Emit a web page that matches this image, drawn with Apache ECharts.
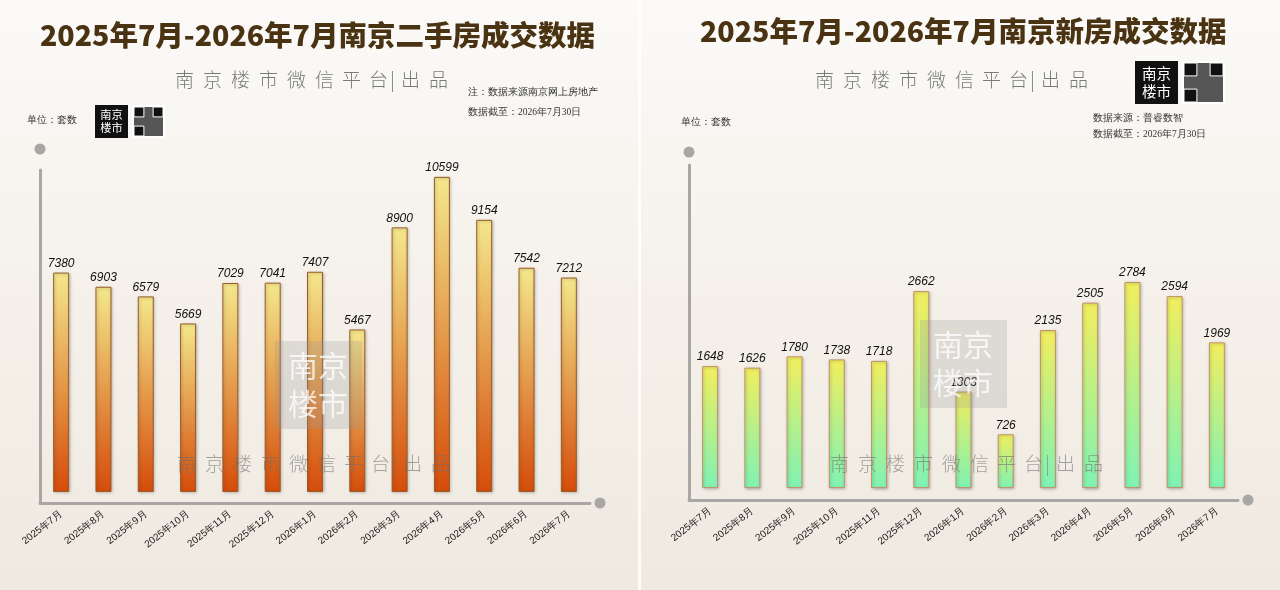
<!DOCTYPE html>
<html>
<head>
<meta charset="utf-8">
<script src="https://cdn.jsdelivr.net/npm/echarts@6/dist/echarts.min.js"></script>
<style>
  html, body { margin: 0; padding: 0; background: #f6f2ec; }
  #main { width: 1280px; height: 590px; }
</style>
</head>
<body>
<div id="main"></div>
<script>
// 月份
var months = ['2025年7月', '2025年8月', '2025年9月', '2025年10月', '2025年11月', '2025年12月',
  '2026年1月', '2026年2月', '2026年3月', '2026年4月', '2026年5月', '2026年6月', '2026年7月'];
// 二手房成交（套）
var secondHand = [7380, 6903, 6579, 5669, 7029, 7041, 7407, 5467, 8900, 10599, 9154, 7542, 7212];
// 新房成交（套）
var newHome = [1648, 1626, 1780, 1738, 1718, 2662, 1303, 726, 2135, 2505, 2784, 2594, 1969];

var myChart = echarts.init(document.getElementById('main'));
var cjk = '"Noto Sans CJK SC", sans-serif';

function axisX(gridIndex, offs) {
  return {
    type: 'category', gridIndex: gridIndex, data: months,
    axisLine: { onZero: false, symbol: ['none', 'circle'], symbolSize: [11, 11], symbolOffset: [0, offs],
      lineStyle: { color: '#a9a7a4', width: 3 } },
    axisTick: { show: false },
    axisLabel: { interval: 0, rotate: 38, fontSize: 10, color: '#1a1a1a', margin: 10, fontFamily: 'Liberation Sans, Arial' }
  };
}
function axisY(gridIndex, min, max, offs) {
  return {
    type: 'value', gridIndex: gridIndex, min: min, max: max,
    axisLine: { show: true, symbol: ['none', 'circle'], symbolSize: [11, 11], symbolOffset: [0, offs],
      lineStyle: { color: '#a9a7a4', width: 3 } },
    axisTick: { show: false }, axisLabel: { show: false }, splitLine: { show: false }
  };
}
function barSeries(idx, data, c0, c1, border) {
  return {
    type: 'bar', xAxisIndex: idx, yAxisIndex: idx, data: data, barWidth: 16,
    itemStyle: {
      color: new echarts.graphic.LinearGradient(0, 0, 0, 1, [
        { offset: 0, color: c0 }, { offset: 1, color: c1 }]),
      borderColor: border, borderWidth: 1,
      shadowColor: 'rgba(0,0,0,0.25)', shadowBlur: 3, shadowOffsetX: 1, shadowOffsetY: 1
    },
    label: { show: true, position: 'top', distance: 3, fontSize: 12, fontStyle: 'italic',
      color: '#111', fontFamily: 'Liberation Sans, Arial' }
  };
}
function txt(x, y, s, size, color, extra) {
  var o = { type: 'text', left: x, top: y, z: 10,
    style: { text: s, fontSize: size, fill: color, fontFamily: cjk } };
  if (extra) Object.assign(o.style, extra);
  return o;
}
// 逐字排开的“南京楼市微信平台| 出品”
function spaced(x, y, color, z) {
  var chars = ['南', '京', '楼', '市', '微', '信', '平', '台', '|', '出', '品'];
  var pos = [0, 28, 56, 84, 112, 140, 167, 194, 215, 226, 254];
  return { type: 'group', left: x, top: y, z: z, children: chars.map(function (c, i) {
    return { type: 'text', x: pos[i], y: 0, z: z, style: { text: c, fontSize: 19, fill: color,
      fontFamily: cjk, fontWeight: 300 } };
  }) };
}
function logo(x, y, w) {
  return { type: 'group', left: x, top: y, z: 10, children: [
    { type: 'rect', shape: { x: 0, y: 0, width: w, height: w }, style: { fill: '#111' } },
    { type: 'text', x: w / 2, y: w / 2, style: { text: '南京\n楼市', fontSize: w * 0.34, lineHeight: w * 0.4,
      fill: '#fff', align: 'center', verticalAlign: 'middle', fontFamily: cjk } },
    { type: 'rect', shape: { x: w + 4, y: 0, width: w, height: w }, style: { fill: '#fff' } },
    { type: 'rect', shape: { x: w + 6, y: 2, width: w - 4, height: w - 4 }, style: { fill: '#555' } },
    { type: 'rect', shape: { x: w + 6, y: 2, width: w * 0.3, height: w * 0.3 }, style: { fill: '#111', stroke: '#fff', lineWidth: 1 } },
    { type: 'rect', shape: { x: 2 * w - w * 0.3 + 2, y: 2, width: w * 0.3, height: w * 0.3 }, style: { fill: '#111', stroke: '#fff', lineWidth: 1 } },
    { type: 'rect', shape: { x: w + 6, y: w - w * 0.3 - 2, width: w * 0.3, height: w * 0.3 }, style: { fill: '#111', stroke: '#fff', lineWidth: 1 } }
  ] };
}
function stamp(x, y) {
  return { type: 'group', left: x, top: y, z: 20, children: [
    { type: 'rect', z: 20, shape: { x: 0, y: 0, width: 87, height: 88 }, style: { fill: 'rgba(150,150,150,0.25)' } },
    { type: 'text', z: 21, x: 43, y: 44, style: { text: '南京\n楼市', fontSize: 30, lineHeight: 38, fill: 'rgba(255,255,255,0.75)',
      align: 'center', verticalAlign: 'middle', fontFamily: cjk } }
  ] };
}

var options = {
  backgroundColor: new echarts.graphic.LinearGradient(0, 0, 0, 1, [
    { offset: 0, color: '#fbfaf8' }, { offset: 0.5, color: '#f5f1ea' }, { offset: 1, color: '#efe9e0' }]),
  animation: false,
  grid: [
    { left: 40, top: 170, width: 550, height: 333 },
    { left: 689, top: 165, width: 549, height: 335 }
  ],
  xAxis: [axisX(0, 10), axisX(1, 10)],
  yAxis: [axisY(0, -370, 10830, 21), axisY(1, -162, 4365, 13)],
  series: [
    barSeries(0, secondHand, '#f4e88c', '#d54c0a', '#9b5a2a'),
    barSeries(1, newHome, '#f2ee5e', '#7ff2b4', '#c0946a')
  ],
  graphic: [
    { type: 'rect', left: 638, top: 0, z: -1, shape: { width: 3, height: 590 }, style: { fill: 'rgba(255,255,255,0.8)' } },
    txt(40, 21, '2025年7月-2026年7月南京二手房成交数据', 28.5, '#4a3312', { fontWeight: 900 }),
    txt(700, 17, '2025年7月-2026年7月南京新房成交数据', 28.5, '#4a3312', { fontWeight: 900 }),
    spaced(175, 70, '#7a7a7a', 10),
    spaced(815, 70, '#7a7a7a', 10),
    txt(468, 87, '注：数据来源南京网上房地产', 9.5, '#333', { fontFamily: 'serif' }),
    txt(468, 107, '数据截至：2026年7月30日', 9.5, '#333', { fontFamily: 'serif' }),
    txt(27, 115, '单位：套数', 9.5, '#333', { fontFamily: 'serif' }),
    txt(681, 117, '单位：套数', 9.5, '#333', { fontFamily: 'serif' }),
    txt(1093, 113, '数据来源：普睿数智', 9.5, '#333', { fontFamily: 'serif' }),
    txt(1093, 129, '数据截至：2026年7月30日', 9.5, '#333', { fontFamily: 'serif' }),
    logo(95, 105, 33),
    logo(1135, 61, 43),
    stamp(275, 341),
    stamp(920, 320),
    spaced(177, 454, 'rgba(110,110,110,0.6)', 20),
    spaced(830, 454, 'rgba(110,110,110,0.6)', 20)
  ]
};
myChart.setOption(options);
</script>
</body>
</html>
